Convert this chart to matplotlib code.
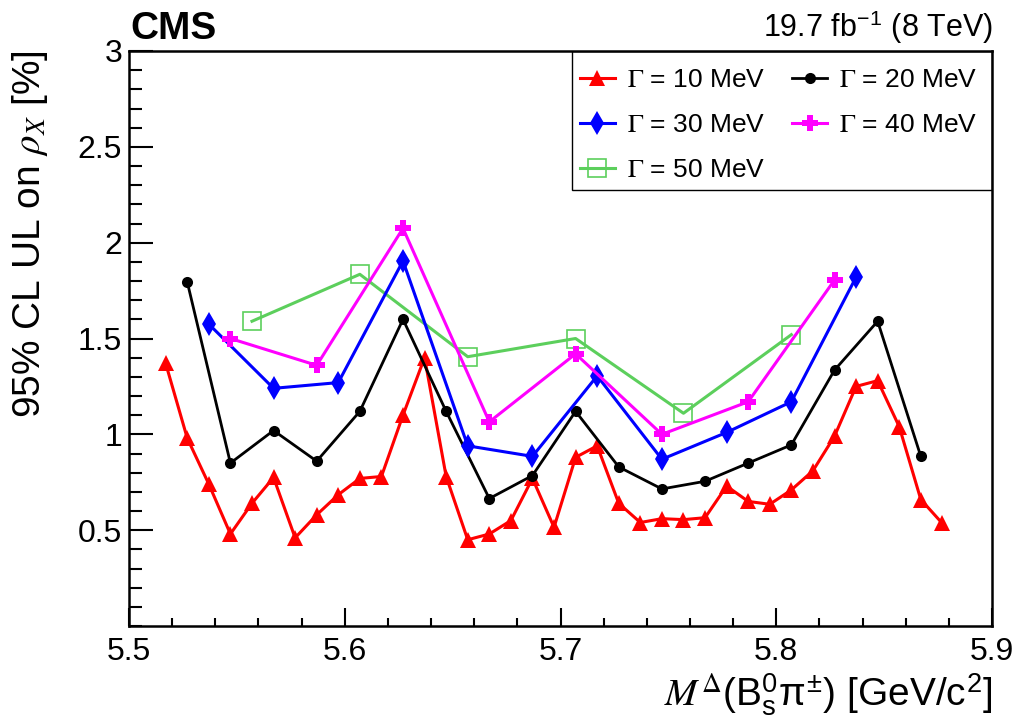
import matplotlib

matplotlib.use("Agg")
import matplotlib.pyplot as plt
from matplotlib.patches import Rectangle
from matplotlib.ticker import MultipleLocator

plt.rcParams["font.family"] = ["Liberation Sans", "DejaVu Sans"]
plt.rcParams["mathtext.fontset"] = "stix"

# mass points (GeV/c^2) and 95% CL upper limits (%) per width hypothesis
mass_10 = [5.517, 5.527, 5.537, 5.547, 5.557, 5.567, 5.577, 5.587, 5.597, 5.607,
           5.617, 5.627, 5.637, 5.647, 5.657, 5.667, 5.677, 5.687, 5.697, 5.707,
           5.717, 5.727, 5.737, 5.747, 5.757, 5.767, 5.777, 5.787, 5.797, 5.807,
           5.817, 5.827, 5.837, 5.847, 5.857, 5.867, 5.877]
ul_10 = [1.37, 0.98, 0.74, 0.48, 0.64, 0.775, 0.46, 0.58, 0.685, 0.77,
         0.78, 1.10, 1.40, 0.78, 0.45, 0.48, 0.55, 0.77, 0.515, 0.88,
         0.94, 0.64, 0.54, 0.56, 0.555, 0.565, 0.73, 0.65, 0.635, 0.71,
         0.81, 0.99, 1.25, 1.28, 1.04, 0.66, 0.535]

mass_20 = [5.527, 5.547, 5.567, 5.587, 5.607, 5.627, 5.647, 5.667, 5.687,
           5.707, 5.727, 5.747, 5.767, 5.787, 5.807, 5.827, 5.847, 5.867]
ul_20 = [1.795, 0.85, 1.02, 0.86, 1.12, 1.60, 1.12, 0.665, 0.785,
         1.12, 0.83, 0.715, 0.755, 0.85, 0.945, 1.335, 1.59, 0.885]

mass_30 = [5.537, 5.567, 5.597, 5.627, 5.657, 5.687, 5.717, 5.747, 5.777, 5.807, 5.837]
ul_30 = [1.575, 1.24, 1.27, 1.905, 0.94, 0.885, 1.305, 0.87, 1.01, 1.17, 1.82]

mass_40 = [5.547, 5.587, 5.627, 5.667, 5.707, 5.747, 5.787, 5.827]
ul_40 = [1.50, 1.36, 2.075, 1.065, 1.42, 1.00, 1.17, 1.805]

mass_50 = [5.557, 5.607, 5.657, 5.707, 5.757, 5.807]
ul_50 = [1.59, 1.835, 1.405, 1.50, 1.11, 1.52]

y_ticks = [0.5, 1.0, 1.5, 2.0, 2.5, 3.0]
y_tick_labels = ["0.5", "1", "1.5", "2", "2.5", "3"]
x_ticks = [5.5, 5.6, 5.7, 5.8, 5.9]
x_tick_labels = ["5.5", "5.6", "5.7", "5.8", "5.9"]

GREEN = "#5ccf5c"

fig = plt.figure(figsize=(10.21, 7.27), dpi=100)
ax = fig.add_axes([129 / 1021, 101 / 727, 863 / 1021, 575 / 727])

h10, = ax.plot(mass_10, ul_10, "-^", color="red", lw=2.2, ms=11, mew=0, zorder=2,
               label=r"$\Gamma$ = 10 MeV")
h20, = ax.plot(mass_20, ul_20, "-o", color="black", lw=2.0, ms=8, mew=0, zorder=3,
               label=r"$\Gamma$ = 20 MeV")
h50, = ax.plot(mass_50, ul_50, "-s", color=GREEN, lw=2.2, ms=13, mew=1.2,
               mfc="none", zorder=4, label=r"$\Gamma$ = 50 MeV")
h30, = ax.plot(mass_30, ul_30, "-d", color="blue", lw=2.2, ms=12, mew=0, zorder=5,
               label=r"$\Gamma$ = 30 MeV")
h40, = ax.plot(mass_40, ul_40, "-P", color="magenta", lw=2.2, ms=12, mew=0, zorder=6,
               label=r"$\Gamma$ = 40 MeV")

ax.set_xlim(5.5, 5.9)
ax.set_ylim(0, 3)
ax.set_xticks(x_ticks)
ax.set_xticklabels(x_tick_labels)
ax.set_yticks(y_ticks)
ax.set_yticklabels(y_tick_labels)
ax.xaxis.set_minor_locator(MultipleLocator(0.02))
ax.yaxis.set_minor_locator(MultipleLocator(0.1))
ax.tick_params(which="both", direction="in", top=False, right=False, labelsize=23)
ax.tick_params(axis="y", which="major", length=17, width=1.5, pad=5)
ax.tick_params(axis="y", which="minor", length=9, width=1.5)
ax.tick_params(axis="x", which="major", length=13, width=1.5, pad=8)
ax.tick_params(axis="x", which="minor", length=6, width=1.5)
for sp in ax.spines.values():
    sp.set_linewidth(1.8)

# legend box (ROOT style, flush with the top-right frame)
ax.add_patch(Rectangle((443 / 863, 436 / 575), 420 / 863, 139 / 575,
                       transform=ax.transAxes, fill=False, ec="black", lw=1.0,
                       zorder=10))
ax.legend(handles=[h10, h30, h50, h20, h40], ncol=2, frameon=False,
          loc="upper left", bbox_to_anchor=(444 / 863, 0.982), borderaxespad=0,
          fontsize=19, handlelength=1.35, handletextpad=0.45,
          columnspacing=1.0, labelspacing=0.8, borderpad=0.25)

fig.text(130 / 1021, 1 - 39 / 727, "CMS", fontsize=28, fontweight="bold",
         ha="left", va="baseline")
fig.text(993 / 1021, 1 - 37 / 727, r"19.7 fb$^{\mathregular{-1}}$ (8 TeV)",
         fontsize=22, ha="right", va="baseline")
fig.text(30 / 1021, 1 - 50 / 727, r"95% CL UL on $\rho_X$ [%]", fontsize=28,
         rotation=90, ha="center", va="top")
fig.text(993 / 1021, 1 - 706 / 727,
         r"$M^{\Delta}$(B$^{\mathregular{0}}_{\mathregular{s}}$π$^{\mathregular{\pm}}$) [GeV/c$^{\mathregular{2}}$]",
         fontsize=28, ha="right", va="baseline")

fig.savefig("out.png", dpi=100)
